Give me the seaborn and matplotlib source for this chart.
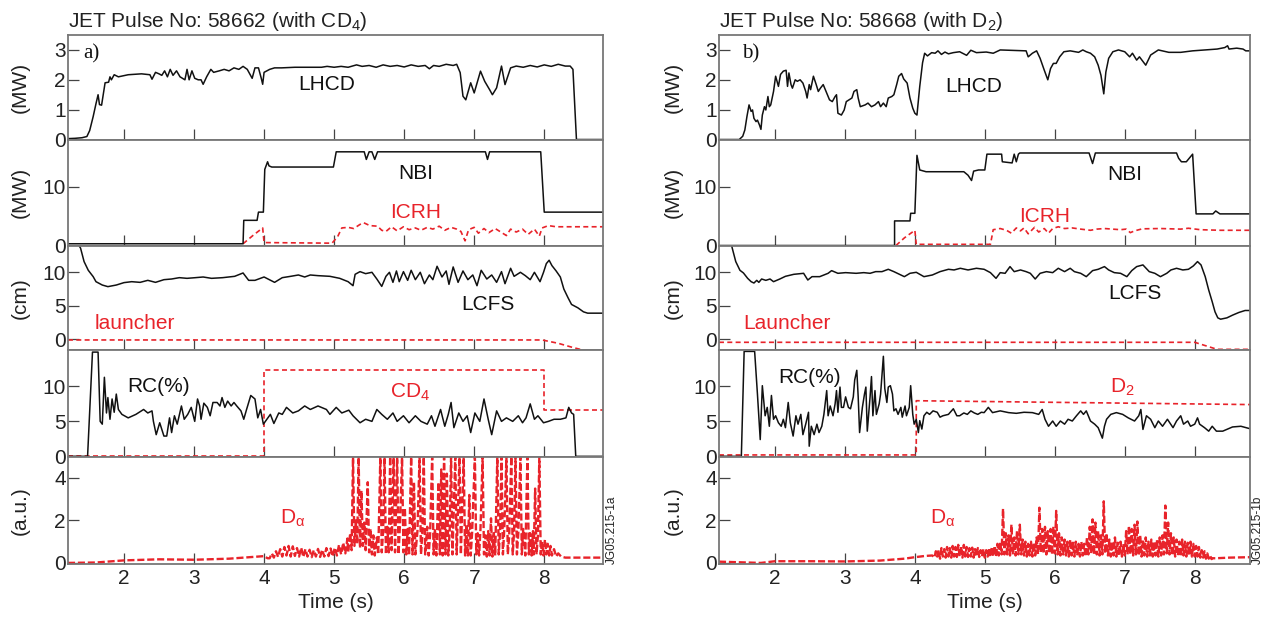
import matplotlib
matplotlib.use("Agg")
import matplotlib.pyplot as plt
import seaborn as sns

# ---------------- data: pulse 58662 (with CD4) ----------------
lhcd_a_t = [1.2, 1.3, 1.4, 1.47, 1.51, 1.56, 1.6, 1.63, 1.65, 1.68,
            1.7, 1.73, 1.78, 1.8, 1.82, 1.86, 1.92, 2.06, 2.25, 2.37,
            2.4, 2.45, 2.5, 2.54, 2.58, 2.62, 2.66, 2.7, 2.75, 2.8,
            2.87, 2.9, 2.93, 2.97, 3.01, 3.06, 3.1, 3.13, 3.18, 3.24,
            3.28, 3.36, 3.43, 3.5, 3.57, 3.64, 3.7, 3.76, 3.83, 3.87,
            3.92, 3.96, 3.98, 4.0, 4.08, 4.15, 4.25, 4.44, 4.6, 4.82,
            4.9, 5.0, 5.1, 5.2, 5.32, 5.4, 5.5, 5.6, 5.7, 5.8,
            5.9, 6.0, 6.1, 6.2, 6.3, 6.36, 6.42, 6.5, 6.6, 6.7,
            6.75, 6.8, 6.84, 6.88, 6.95, 7.0, 7.09, 7.15, 7.22, 7.26,
            7.32, 7.39, 7.44, 7.52, 7.6, 7.7, 7.8, 7.9, 8.0, 8.1,
            8.2, 8.3, 8.37, 8.41, 8.46, 8.84]
lhcd_a_v = [0.03, 0.04, 0.06, 0.1, 0.3, 0.77, 1.2, 1.5, 1.17, 1.15,
            1.45, 1.9, 1.92, 2.1, 2.0, 2.17, 2.1, 2.17, 2.2, 2.17,
            2.02, 2.25, 2.2, 2.15, 2.3, 2.1, 2.35, 2.15, 2.3, 2.1,
            2.0, 2.35, 2.0, 2.3, 2.05, 2.0, 2.0, 1.85, 2.1, 2.35,
            2.25, 2.3, 2.35, 2.3, 2.4, 2.35, 2.45, 2.35, 2.05, 2.4,
            2.4, 2.05, 1.85, 2.25, 2.35, 2.4, 2.4, 2.42, 2.42, 2.42,
            2.45, 2.42, 2.45, 2.42, 2.5, 2.45, 2.48, 2.42, 2.5, 2.45,
            2.48, 2.43, 2.5, 2.45, 2.48, 2.37, 2.48, 2.45, 2.52, 2.48,
            2.52, 2.24, 1.45, 1.33, 1.9, 1.56, 2.29, 1.95, 1.67, 1.5,
            1.73, 2.46, 1.84, 2.4, 2.46, 2.42, 2.48, 2.43, 2.5, 2.45,
            2.52, 2.46, 2.46, 2.35, 0.0, 0.0]

nbi_a_t = [1.2, 3.7, 3.71, 3.9, 3.92, 3.99, 4.01, 4.05, 4.07, 4.11,
           4.99, 5.03, 5.43, 5.46, 5.5, 5.54, 5.58, 5.62, 7.16, 7.19,
           7.22, 7.95, 8.0, 8.84]
nbi_a_v = [0.3, 0.3, 4.3, 4.3, 5.7, 5.7, 13.0, 14.3, 13.6, 13.4,
           13.4, 16.0, 16.0, 14.7, 16.0, 16.0, 14.7, 16.0, 16.0, 14.7,
           16.0, 16.0, 5.7, 5.7]

icrh_a_t = [3.7, 3.72, 3.85, 3.98, 4.0, 4.97, 5.05, 5.11, 5.2, 5.28,
            5.37, 5.42, 5.51, 5.62, 5.68, 5.74, 5.82, 5.9, 5.99, 6.07,
            6.16, 6.24, 6.33, 6.41, 6.5, 6.58, 6.67, 6.75, 6.81, 6.87,
            6.92, 7.0, 7.06, 7.14, 7.21, 7.3, 7.38, 7.46, 7.52, 7.6,
            7.69, 7.77, 7.86, 7.93, 7.97, 8.06, 8.17, 8.84]
icrh_a_v = [0.3, 0.5, 1.8, 3.0, 0.5, 0.4, 1.5, 3.0, 3.1, 2.9,
            3.6, 3.9, 3.4, 3.3, 2.6, 2.4, 3.2, 2.5, 3.2, 2.7,
            3.0, 2.6, 3.1, 2.8, 3.3, 2.6, 3.1, 2.8, 2.4, 0.8,
            2.7, 3.1, 2.1, 2.9, 2.2, 2.9, 2.3, 1.7, 2.8, 2.3,
            2.8, 1.9, 2.8, 1.6, 3.0, 3.4, 3.2, 3.2]

lcfs_a_t = [1.33, 1.38, 1.43, 1.49, 1.56, 1.6, 1.69, 1.77, 1.89, 2.0,
            2.11, 2.23, 2.34, 2.45, 2.57, 2.68, 2.79, 2.9, 3.02, 3.13,
            3.25, 3.41, 3.58, 3.7, 3.78, 3.87, 4.0, 4.15, 4.26, 4.38,
            4.49, 4.58, 4.66, 4.77, 4.94, 5.08, 5.2, 5.27, 5.3, 5.37,
            5.45, 5.54, 5.61, 5.68, 5.74, 5.79, 5.84, 5.89, 5.93, 5.99,
            6.05, 6.1, 6.16, 6.23, 6.29, 6.36, 6.41, 6.47, 6.54, 6.6,
            6.64, 6.7, 6.77, 6.84, 6.91, 6.98, 7.04, 7.1, 7.18, 7.25,
            7.32, 7.39, 7.44, 7.52, 7.57, 7.66, 7.73, 7.8, 7.86, 7.94,
            7.99, 8.03, 8.07, 8.11, 8.17, 8.23, 8.28, 8.34, 8.39, 8.48,
            8.56, 8.62, 8.76, 8.84]
lcfs_a_v = [14.5, 13.6, 11.6, 10.3, 9.35, 8.6, 8.1, 7.86, 8.1, 8.46,
            8.6, 8.5, 8.8, 8.5, 8.9, 9.0, 9.2, 9.1, 9.2, 9.3,
            9.1, 9.2, 9.4, 9.9, 8.8, 8.8, 9.3, 8.5, 9.2, 9.4,
            9.6, 9.3, 9.6, 9.5, 9.4, 9.1, 8.6, 8.0, 9.7, 10.1,
            9.8, 10.0, 9.0, 7.9, 9.4, 10.0, 8.5, 10.2, 8.6, 10.1,
            8.8, 10.3, 8.9, 10.0, 8.3, 9.6, 8.9, 10.9, 9.3, 10.2,
            8.2, 10.8, 8.5, 10.2, 8.9, 9.6, 8.0, 10.3, 9.0, 9.6,
            8.5, 10.1, 8.3, 10.6, 9.4, 10.0, 9.5, 8.9, 10.0, 8.6,
            10.0, 11.3, 11.8, 11.0, 10.2, 9.3, 7.5, 6.2, 5.2, 4.7,
            4.1, 3.9, 3.9, 3.9]

launch_a_t = [1.2, 7.97, 8.2, 8.4, 8.55, 8.84]
launch_a_v = [-0.1, -0.1, -0.6, -1.2, -1.6, -2.0]

rc_a_t = [1.2, 1.48, 1.55, 1.63, 1.66, 1.69, 1.72, 1.75, 1.77, 1.8,
          1.83, 1.86, 1.89, 1.92, 1.97, 2.06, 2.17, 2.28, 2.34, 2.4,
          2.42, 2.46, 2.51, 2.57, 2.61, 2.65, 2.68, 2.72, 2.76, 2.82,
          2.86, 2.91, 2.96, 3.01, 3.05, 3.08, 3.1, 3.14, 3.19, 3.23,
          3.27, 3.33, 3.37, 3.4, 3.44, 3.48, 3.53, 3.57, 3.61, 3.67,
          3.71, 3.75, 3.81, 3.87, 3.91, 3.95, 3.99, 4.04, 4.09, 4.14,
          4.21, 4.26, 4.32, 4.41, 4.49, 4.58, 4.66, 4.77, 4.89, 4.94,
          5.03, 5.11, 5.21, 5.27, 5.37, 5.45, 5.54, 5.61, 5.68, 5.76,
          5.84, 5.9, 5.99, 6.07, 6.16, 6.24, 6.33, 6.39, 6.44, 6.52,
          6.58, 6.63, 6.67, 6.71, 6.78, 6.84, 6.9, 6.95, 7.01, 7.08,
          7.14, 7.2, 7.25, 7.32, 7.39, 7.46, 7.55, 7.63, 7.69, 7.74,
          7.8, 7.86, 7.91, 7.99, 8.06, 8.14, 8.23, 8.31, 8.35, 8.39,
          8.42, 8.45, 8.84]
rc_a_v = [0.0, 0.0, 14.9, 14.9, 5.0, 4.6, 11.3, 6.2, 8.4, 5.3,
          8.2, 6.3, 8.9, 6.7, 6.0, 5.5, 6.0, 6.7, 6.2, 6.5,
          5.0, 3.1, 4.8, 2.9, 2.9, 5.5, 3.4, 5.8, 4.6, 7.2,
          5.3, 6.0, 7.0, 5.0, 8.2, 7.2, 5.3, 7.6, 7.0, 5.8,
          7.7, 7.7, 7.2, 8.4, 7.0, 7.9, 7.2, 7.7, 7.2, 6.5,
          5.3, 6.7, 8.7, 8.2, 5.5, 6.7, 4.6, 5.3, 6.0, 4.7,
          6.2, 6.0, 7.0, 6.2, 6.5, 7.2, 6.7, 7.2, 6.7, 6.0,
          7.0, 6.2, 6.6, 5.8, 4.8, 5.3, 5.0, 6.7, 6.0, 5.3,
          6.2, 5.0, 5.8, 4.8, 5.8, 5.0, 4.6, 5.8, 4.3, 6.7,
          4.3, 6.0, 7.7, 4.1, 6.2, 5.0, 5.8, 3.4, 6.2, 5.0,
          8.2, 5.3, 3.1, 6.5, 5.0, 5.5, 5.0, 5.8, 4.8, 5.5,
          7.5, 5.3, 5.8, 4.8, 5.0, 5.3, 5.3, 5.5, 7.0, 6.2,
          6.0, 0.0, 0.0]

cd4_t = [1.2, 4.0, 4.0, 8.0, 8.0, 8.84]
cd4_v = [0.1, 0.1, 12.4, 12.4, 6.6, 6.6]

da_a_t = [1.2, 1.6, 2.0, 2.5, 3.0, 3.5, 3.9, 4.0, 4.05,
          4.08, 4.11, 4.14, 4.17, 4.2, 4.23, 4.26, 4.29, 4.32, 4.35,
          4.38, 4.41, 4.44, 4.47, 4.5, 4.53, 4.56, 4.59, 4.62, 4.65,
          4.68, 4.71, 4.74, 4.77, 4.8, 4.83, 4.86, 4.89, 4.92, 4.95,
          4.98, 5.01, 5.04, 5.07, 5.1, 5.13, 5.16, 5.19,
          5.2, 5.23, 5.25, 5.27, 5.29, 5.31, 5.33, 5.35, 5.37, 5.39,
          5.41, 5.43, 5.45, 5.48, 5.5, 5.52, 5.54, 5.56, 5.58, 5.61,
          5.63, 5.66, 5.68, 5.7, 5.72, 5.74, 5.76, 5.78, 5.8, 5.82,
          5.85, 5.87, 5.9, 5.92, 5.94, 5.97, 5.99, 6.01, 6.03, 6.05,
          6.07, 6.1, 6.12, 6.14, 6.16, 6.19, 6.22, 6.24, 6.26, 6.28,
          6.3, 6.33, 6.35, 6.37, 6.4, 6.42, 6.44, 6.46, 6.49, 6.51,
          6.53, 6.55, 6.57, 6.59, 6.61, 6.63, 6.65, 6.67, 6.69, 6.73,
          6.75, 6.79, 6.81, 6.85, 6.87, 6.89, 6.91, 6.93, 6.95, 6.97,
          7.01, 7.03, 7.05, 7.07, 7.09, 7.12, 7.14, 7.16, 7.18, 7.2,
          7.22, 7.24, 7.26, 7.28, 7.3, 7.33, 7.35, 7.37, 7.39, 7.41,
          7.43, 7.46, 7.48, 7.5, 7.53, 7.55, 7.57, 7.59, 7.61, 7.63,
          7.66, 7.68, 7.7, 7.73, 7.76, 7.78, 7.8, 7.82, 7.84, 7.85,
          7.87, 7.89, 7.91, 7.93, 7.95, 7.97, 7.99, 8.01, 8.03, 8.05,
          8.07, 8.09, 8.11, 8.14, 8.17, 8.2, 8.24, 8.3, 8.84]
da_a_v = [0.0, 0.02, 0.12, 0.17, 0.15, 0.2, 0.3, 0.32, 0.22,
          0.22, 0.45, 0.25, 0.55, 0.28, 0.65, 0.3, 0.75, 0.35, 0.8,
          0.3, 0.78, 0.33, 0.7, 0.3, 0.72, 0.28, 0.65, 0.3, 0.62,
          0.27, 0.6, 0.3, 0.66, 0.28, 0.62, 0.3, 0.7, 0.32, 0.68,
          0.3, 0.72, 0.35, 0.85, 0.4, 0.95, 0.45, 1.15,
          0.5, 1.4, 0.6, 5.0, 0.8, 2.0, 0.9, 5.0, 0.7, 3.4,
          0.8, 1.9, 0.6, 3.8, 0.5, 1.6, 0.4, 1.3, 0.35, 1.2,
          0.4, 5.0, 0.5, 1.5, 5.0, 0.4, 1.7, 0.5, 5.0, 0.6,
          5.0, 0.5, 5.0, 0.4, 1.8, 5.0, 0.5, 2.6, 0.4, 1.6,
          0.35, 5.0, 0.4, 3.8, 0.4, 1.5, 5.0, 0.4, 1.4, 5.0,
          0.4, 1.7, 0.35, 1.3, 5.0, 0.4, 1.6, 0.35, 3.8, 0.4,
          4.4, 0.35, 5.0, 0.4, 4.2, 0.35, 1.5, 5.0, 0.4, 5.0,
          0.4, 5.0, 0.4, 5.0, 0.35, 1.8, 0.3, 3.2, 0.35, 1.4,
          5.0, 0.4, 1.4, 0.35, 1.6, 5.0, 0.4, 1.3, 0.3, 1.5,
          0.35, 2.1, 0.3, 1.4, 0.35, 5.0, 0.4, 1.5, 5.0, 0.4,
          1.6, 5.0, 0.4, 1.3, 5.0, 0.4, 1.5, 5.0, 0.4, 1.4,
          5.0, 0.4, 1.6, 0.35, 5.0, 0.4, 1.4, 0.35, 1.5, 0.4,
          3.5, 0.4, 1.3, 5.0, 0.4, 1.0, 0.35, 1.1, 0.4, 0.9,
          0.35, 0.8, 0.35, 0.65, 0.3, 0.45, 0.3, 0.25, 0.25]

# ---------------- data: pulse 58668 (with D2) ----------------
lhcd_b_t = [1.2, 1.49, 1.54, 1.57, 1.6, 1.63, 1.66, 1.68, 1.7, 1.73,
            1.75, 1.78, 1.8, 1.82, 1.85, 1.87, 1.9, 1.92, 1.94, 1.98,
            2.01, 2.05, 2.08, 2.12, 2.16, 2.18, 2.2, 2.23, 2.25, 2.29,
            2.32, 2.36, 2.4, 2.44, 2.46, 2.49, 2.51, 2.55, 2.59, 2.62,
            2.65, 2.69, 2.73, 2.78, 2.82, 2.86, 2.88, 2.9, 2.95, 2.99,
            3.02, 3.1, 3.13, 3.17, 3.19, 3.22, 3.29, 3.33, 3.38, 3.43,
            3.48, 3.51, 3.55, 3.59, 3.62, 3.67, 3.7, 3.74, 3.77, 3.81,
            3.84, 3.89, 3.93, 3.97, 4.0, 4.03, 4.07, 4.11, 4.14, 4.18,
            4.24, 4.29, 4.33, 4.38, 4.43, 4.48, 4.55, 4.64, 4.74, 4.8,
            4.88, 5.02, 5.12, 5.22, 5.45, 5.59, 5.62, 5.68, 5.74, 5.79,
            5.85, 5.9, 5.94, 5.98, 6.02, 6.07, 6.13, 6.22, 6.34, 6.4,
            6.45, 6.51, 6.57, 6.62, 6.66, 6.7, 6.73, 6.77, 6.83, 6.91,
            7.0, 7.07, 7.11, 7.17, 7.21, 7.3, 7.37, 7.48, 7.63, 7.8,
            7.97, 8.14, 8.32, 8.43, 8.47, 8.49, 8.6, 8.69, 8.73, 8.79]
lhcd_b_v = [0.0, 0.0, 0.11, 0.32, 0.77, 1.16, 0.94, 0.99, 0.71, 0.6,
            0.65, 0.48, 0.34, 0.82, 1.1, 0.99, 1.44, 1.1, 1.16, 1.61,
            2.12, 1.78, 2.18, 2.29, 2.32, 1.78, 2.23, 1.84, 1.72, 2.0,
            1.95, 2.0, 1.89, 1.61, 1.39, 1.84, 1.67, 2.12, 1.84, 1.61,
            1.72, 1.84, 1.61, 1.33, 1.27, 1.44, 1.5, 0.88, 0.82, 0.99,
            1.27, 1.39, 1.61, 1.67, 1.39, 1.1, 1.16, 1.22, 1.1, 1.16,
            1.27, 1.1, 1.22, 1.1, 1.39, 1.44, 1.5, 1.84, 2.12, 2.21,
            2.03, 1.89, 1.39, 1.05, 0.88, 0.82, 1.78, 2.57, 2.89, 2.8,
            2.91, 2.89, 2.97, 2.85, 2.93, 2.87, 2.91, 2.94, 2.82, 2.99,
            2.91, 2.93, 2.89, 3.0, 2.98, 2.97, 2.77, 2.89, 2.97, 2.72,
            2.32, 2.0, 2.38, 2.55, 2.55, 2.77, 2.94, 2.97, 2.92, 3.0,
            2.94, 2.89, 2.77, 2.49, 2.15, 1.53, 2.26, 2.72, 2.94, 3.0,
            2.94, 2.77, 2.89, 2.66, 2.77, 2.49, 2.83, 3.0, 2.92, 2.92,
            2.97, 3.0, 3.03, 3.08, 3.14, 3.03, 3.06, 3.03, 2.97, 2.97]

nbi_b_t = [1.2, 3.71, 3.71, 3.93, 3.94, 4.0, 4.03, 4.07, 4.16, 4.7,
           4.76, 4.81, 4.84, 4.91, 5.0, 5.03, 5.24, 5.25, 5.39, 5.42,
           5.45, 5.48, 5.5, 6.49, 6.54, 6.58, 7.74, 7.77, 7.81, 7.88,
           7.97, 8.02, 8.26, 8.3, 8.36, 8.79]
nbi_b_v = [0.0, 0.0, 4.2, 4.2, 5.5, 5.5, 15.4, 12.9, 12.6, 12.6,
           12.0, 11.1, 12.7, 12.9, 12.9, 15.6, 15.6, 14.3, 14.1, 15.6,
           14.3, 15.6, 15.8, 15.8, 14.0, 15.8, 15.8, 14.9, 14.3, 14.3,
           15.6, 5.4, 5.4, 5.9, 5.4, 5.4]

icrh_b_t = [3.73, 3.85, 4.0, 4.02, 5.08, 5.12, 5.22, 5.31, 5.38, 5.45,
            5.51, 5.56, 5.62, 5.71, 5.77, 5.85, 5.91, 5.97, 6.05, 6.14,
            6.25, 6.37, 6.51, 6.6, 6.71, 6.94, 7.02, 7.08, 7.14, 7.25,
            7.51, 7.8, 7.91, 8.08, 8.37, 8.79]
icrh_b_v = [0.0, 1.3, 2.6, 0.2, 0.2, 2.7, 2.9, 2.6, 2.1, 3.0,
            2.5, 3.0, 2.0, 3.1, 2.3, 2.9, 2.1, 2.9, 3.2, 2.9,
            3.0, 2.8, 2.6, 2.8, 2.9, 2.7, 2.8, 2.2, 2.5, 2.85,
            2.9, 2.8, 2.95, 2.7, 2.6, 2.6]

lcfs_b_t = [1.37, 1.39, 1.44, 1.5, 1.55, 1.61, 1.66, 1.7, 1.74, 1.77,
            1.81, 1.87, 1.93, 1.98, 2.07, 2.15, 2.27, 2.41, 2.47, 2.53,
            2.64, 2.76, 2.81, 2.9, 3.01, 3.16, 3.27, 3.36, 3.44, 3.53,
            3.62, 3.7, 3.85, 3.93, 4.02, 4.13, 4.25, 4.36, 4.48, 4.56,
            4.65, 4.76, 4.88, 4.99, 5.08, 5.16, 5.22, 5.29, 5.36, 5.42,
            5.51, 5.59, 5.65, 5.72, 5.79, 5.88, 5.97, 6.05, 6.14, 6.22,
            6.28, 6.37, 6.45, 6.54, 6.62, 6.71, 6.77, 6.85, 6.94, 7.03,
            7.1, 7.17, 7.26, 7.35, 7.43, 7.51, 7.6, 7.66, 7.74, 7.83,
            7.91, 7.98, 8.04, 8.09, 8.15, 8.2, 8.25, 8.29, 8.33, 8.37,
            8.46, 8.54, 8.63, 8.72, 8.79]
lcfs_b_v = [14.5, 13.6, 11.6, 10.3, 9.9, 9.1, 8.6, 8.4, 8.8, 8.5,
            9.0, 8.8, 9.0, 8.6, 9.0, 9.4, 9.7, 9.85, 8.85, 9.35,
            9.35, 9.85, 10.25, 9.85, 9.95, 9.85, 9.95, 9.85, 10.1, 10.1,
            10.45, 10.1, 9.35, 9.85, 10.0, 9.35, 9.6, 10.1, 10.45, 10.35,
            10.6, 10.35, 10.6, 10.45, 9.95, 9.1, 9.95, 9.85, 10.85, 10.1,
            10.35, 10.1, 9.85, 9.0, 9.85, 10.1, 9.95, 10.6, 10.1, 10.6,
            10.1, 9.85, 9.35, 10.25, 10.45, 10.85, 10.35, 9.95, 9.85, 9.35,
            10.25, 10.85, 11.1, 10.1, 9.85, 9.35, 9.85, 10.35, 10.6, 10.35,
            10.45, 10.95, 11.6, 11.1, 9.35, 7.35, 5.6, 4.1, 3.2, 3.0,
            3.2, 3.6, 4.0, 4.3, 4.3]

launch_b_t = [1.2, 8.0, 8.32, 8.79]
launch_b_v = [-0.45, -0.45, -1.5, -1.5]

rc_b_t = [1.2, 1.52, 1.56, 1.71, 1.75, 1.79, 1.82, 1.86, 1.89, 1.92,
          1.95, 1.98, 2.01, 2.05, 2.09, 2.12, 2.15, 2.19, 2.22, 2.26,
          2.3, 2.33, 2.37, 2.4, 2.44, 2.48, 2.49, 2.52, 2.56, 2.6,
          2.63, 2.67, 2.7, 2.74, 2.76, 2.79, 2.83, 2.86, 2.88, 2.9,
          2.93, 2.95, 2.98, 3.01, 3.05, 3.08, 3.12, 3.14, 3.17, 3.19,
          3.21, 3.25, 3.28, 3.3, 3.32, 3.36, 3.38, 3.4, 3.43, 3.45,
          3.49, 3.51, 3.53, 3.55, 3.57, 3.6, 3.62, 3.65, 3.68, 3.7,
          3.73, 3.76, 3.8, 3.82, 3.86, 3.88, 3.92, 3.94, 3.97, 3.99,
          4.02, 4.05, 4.07, 4.1, 4.13, 4.17, 4.21, 4.26, 4.32, 4.36,
          4.4, 4.48, 4.55, 4.6, 4.64, 4.7, 4.75, 4.8, 4.85, 4.9,
          4.95, 4.99, 5.05, 5.11, 5.22, 5.34, 5.45, 5.56, 5.68, 5.77,
          5.82, 5.86, 5.91, 5.97, 6.02, 6.08, 6.14, 6.19, 6.25, 6.31,
          6.37, 6.41, 6.45, 6.51, 6.57, 6.62, 6.68, 6.71, 6.74, 6.8,
          6.88, 6.97, 7.05, 7.14, 7.2, 7.23, 7.26, 7.31, 7.37, 7.43,
          7.48, 7.54, 7.61, 7.69, 7.74, 7.8, 7.84, 7.9, 7.94, 8.0,
          8.04, 8.07, 8.14, 8.2, 8.25, 8.31, 8.4, 8.54, 8.66, 8.79]
rc_b_v = [0.0, 0.0, 15.0, 15.0, 8.9, 2.4, 10.1, 5.8, 7.0, 4.3,
          8.7, 5.3, 5.8, 4.8, 4.3, 5.3, 4.1, 7.7, 4.8, 2.9,
          5.8, 4.6, 6.0, 3.1, 4.6, 6.3, 1.45, 4.3, 3.1, 4.6,
          3.4, 4.3, 6.0, 9.4, 5.8, 7.2, 5.8, 7.5, 9.4, 6.3,
          9.9, 7.0, 7.0, 8.5, 7.0, 6.8, 8.5, 10.9, 12.3, 8.5,
          3.4, 7.0, 8.9, 9.9, 3.6, 8.5, 11.4, 5.8, 9.4, 6.0,
          7.5, 8.9, 11.6, 14.3, 9.7, 7.7, 9.9, 10.1, 8.9, 6.5,
          6.8, 6.0, 7.0, 5.6, 7.2, 5.8, 7.0, 10.1, 6.0, 4.6,
          5.3, 3.4, 5.1, 3.9, 5.8, 6.3, 6.0, 6.5, 6.3, 5.6,
          5.8, 6.0, 6.8, 5.8, 5.8, 6.2, 6.0, 6.5, 6.2, 6.0,
          6.3, 6.25, 7.0, 6.25, 6.5, 6.25, 6.15, 6.3, 6.25, 6.0,
          6.7, 5.3, 4.3, 5.05, 4.3, 5.05, 4.6, 5.3, 5.05, 5.8,
          6.5, 6.0, 6.5, 5.05, 4.6, 4.1, 2.6, 4.3, 5.3, 6.0,
          6.25, 6.0, 5.5, 5.05, 5.8, 6.7, 3.85, 5.8, 5.3, 4.1,
          5.05, 4.3, 5.3, 4.1, 5.05, 5.8, 4.6, 5.05, 4.3, 4.6,
          5.5, 4.6, 4.1, 3.6, 4.3, 3.6, 3.6, 4.2, 4.3, 3.95]

d2_t = [1.2, 4.02, 4.02, 8.79]
d2_v = [0.2, 0.2, 7.95, 7.4]

da_b_t = [1.2, 1.5, 1.8, 2.0, 2.5, 3.0, 3.5, 3.85, 4.0, 4.15, 4.25,
          4.28, 4.30, 4.32, 4.34, 4.36, 4.38, 4.40, 4.42, 4.44, 4.46,
          4.48, 4.50, 4.52, 4.54, 4.56, 4.58, 4.60, 4.62, 4.64, 4.66,
          4.68, 4.70, 4.72, 4.74, 4.76, 4.78, 4.80, 4.82, 4.84, 4.86,
          4.88, 4.90, 4.92, 4.94, 4.96, 4.98, 5.00, 5.02, 5.04, 5.06,
          5.08, 5.10, 5.12, 5.14, 5.16, 5.18, 5.20, 5.22, 5.24, 5.26,
          5.28, 5.30, 5.32, 5.34, 5.36, 5.38, 5.40, 5.42, 5.44, 5.46,
          5.48, 5.50, 5.52, 5.54, 5.56, 5.58, 5.60, 5.62, 5.64, 5.66,
          5.68, 5.70, 5.72, 5.74, 5.76, 5.78, 5.80, 5.82, 5.84, 5.86,
          5.88, 5.90, 5.92, 5.94, 5.96, 5.98, 6.00, 6.02, 6.04, 6.06,
          6.08, 6.10, 6.12, 6.14, 6.16, 6.18, 6.20, 6.22, 6.24, 6.26,
          6.28, 6.30, 6.32, 6.34, 6.36, 6.38, 6.40, 6.42, 6.44, 6.46,
          6.48, 6.50, 6.52, 6.54, 6.56, 6.58, 6.60, 6.62, 6.64, 6.66,
          6.68, 6.70, 6.72, 6.74, 6.76, 6.78, 6.80, 6.82, 6.84, 6.86,
          6.88, 6.90, 6.92, 6.94, 6.96, 6.98, 7.00, 7.02, 7.04, 7.06,
          7.08, 7.10, 7.12, 7.14, 7.16, 7.18, 7.20, 7.22, 7.24, 7.26,
          7.28, 7.30, 7.32, 7.34, 7.36, 7.38, 7.40, 7.42, 7.44, 7.46,
          7.48, 7.50, 7.52, 7.54, 7.56, 7.58, 7.60, 7.62, 7.64, 7.66,
          7.68, 7.70, 7.72, 7.74, 7.76, 7.78, 7.80, 7.82, 7.84, 7.86,
          7.88, 7.90, 7.92, 7.94, 7.96, 7.98, 8.00, 8.02, 8.04, 8.06,
          8.08, 8.10, 8.12, 8.14, 8.16, 8.18, 8.20, 8.22, 8.24, 8.26,
          8.3, 8.5, 8.79]
da_b_v = [0.06, 0.03, 0.0, 0.08, 0.08, 0.07, 0.11, 0.2, 0.27, 0.33, 0.35,
          0.25, 0.55, 0.3, 0.6, 0.2, 0.7, 0.3, 0.65, 0.25, 0.75,
          0.3, 0.7, 0.25, 0.8, 0.3, 0.75, 0.28, 0.85, 0.3, 0.8,
          0.25, 0.85, 0.3, 0.75, 0.28, 0.7, 0.3, 0.72, 0.25, 0.65,
          0.3, 0.7, 0.28, 0.6, 0.3, 0.65, 0.25, 0.6, 0.3, 0.7,
          0.28, 0.75, 0.3, 0.8, 0.3, 0.9, 0.35, 1.0, 0.4, 2.55,
          0.4, 1.4, 0.4, 1.3, 0.35, 1.8, 0.4, 1.2, 0.35, 1.5,
          0.4, 1.8, 0.4, 1.1, 0.35, 1.0, 0.3, 0.9, 0.35, 1.0,
          0.3, 0.95, 0.35, 1.2, 0.4, 2.6, 0.5, 1.6, 0.45, 1.7,
          0.4, 1.5, 0.45, 1.6, 0.4, 1.7, 0.45, 2.45, 0.4, 1.4,
          0.35, 1.2, 0.4, 1.1, 0.35, 1.0, 0.3, 1.1, 0.35, 0.95,
          0.3, 1.0, 0.35, 0.9, 0.3, 1.0, 0.35, 0.9, 0.3, 1.2,
          0.4, 1.7, 0.45, 2.05, 0.4, 1.9, 0.4, 1.5, 0.35, 1.3,
          0.4, 2.9, 0.45, 1.4, 0.35, 1.1, 0.3, 1.0, 0.35, 1.2,
          0.3, 0.95, 0.35, 1.0, 0.3, 0.9, 0.35, 1.5, 0.4, 1.75,
          0.4, 1.6, 0.35, 1.8, 0.4, 1.95, 0.35, 1.3, 0.3, 1.1,
          0.35, 1.2, 0.3, 1.0, 0.35, 1.1, 0.3, 1.0, 0.35, 1.1,
          0.3, 1.2, 0.35, 1.3, 0.4, 2.7, 0.45, 1.9, 0.4, 1.4,
          0.35, 1.2, 0.3, 1.1, 0.35, 1.0, 0.3, 1.1, 0.35, 1.0,
          0.3, 0.95, 0.35, 1.0, 0.3, 0.9, 0.3, 0.8, 0.3, 0.75,
          0.25, 0.6, 0.25, 0.55, 0.2, 0.45, 0.2, 0.35, 0.18, 0.22,
          0.22, 0.25, 0.27]

time_ticks = [2, 3, 4, 5, 6, 7, 8]

# ---------------- style ----------------
sns.set_theme(style="ticks")
plt.rcParams["font.family"] = ["Liberation Sans", "DejaVu Sans"]
plt.rcParams["mathtext.fontset"] = "custom"
plt.rcParams["mathtext.rm"] = "Liberation Sans"
plt.rcParams["mathtext.it"] = "Liberation Sans:italic"
plt.rcParams["mathtext.default"] = "regular"

RED = "#e8232a"
BLACK = "#111111"
FS = 15

fig = plt.figure(figsize=(12.68, 6.21), dpi=100)
ratios = [104.5, 106, 104.5, 106.7, 107.3]
gs_l = fig.add_gridspec(5, 1, left=0.0536, right=0.4756, top=0.9436,
                        bottom=0.0918, hspace=0, height_ratios=ratios)
gs_r = fig.add_gridspec(5, 1, left=0.567, right=0.9858, top=0.9436,
                        bottom=0.0918, hspace=0, height_ratios=ratios)


def draw(ax, t, v, color, lw, dashes=None):
    sns.lineplot(x=t, y=v, ax=ax, color=color, linewidth=lw, sort=False,
                 estimator=None, errorbar=None)
    ln = ax.lines[-1]
    if dashes:
        ln.set_linestyle((0, dashes))


def style(ax, xlim, ylim, yticks, bottom, ylabel, lx):
    ax.set_xlim(*xlim)
    ax.set_ylim(*ylim)
    ax.set_xticks(time_ticks)
    ax.set_yticks(yticks)
    ax.tick_params(axis="both", direction="in", length=8, width=0.9,
                   color="#444444", labelsize=FS, labelcolor="#222222")
    ax.tick_params(axis="y", pad=1.5)
    ax.tick_params(axis="x", pad=3.5, labelbottom=bottom)
    for s in ax.spines.values():
        s.set_visible(True)
        s.set_color("#777777")
        s.set_linewidth(1.3)
    ax.set_xlabel("")
    if ylabel:
        ax.set_ylabel(ylabel, fontsize=FS, color="#222222", va="center")
        ax.yaxis.set_label_coords(lx, 0.5)
    else:
        ax.set_ylabel("")
    if bottom:
        ax.set_xlabel("Time (s)", fontsize=FS, color="#222222", va="center")
        ax.xaxis.set_label_coords(0.5, -0.363)


def label(ax, x, y, s, color=BLACK, family=None, size=FS):
    kw = {}
    if family:
        kw["family"] = family
    ax.text(x, y, s, color=color, fontsize=size, ha="center", va="center", **kw)


DASH = (3, 2)
DASH_DA = (3, 1.2)

columns = [
    dict(gs=gs_l, xlim=(1.2, 8.84), lx=-0.09, tag="a)", tagx=1.54,
         lhcd=(lhcd_a_t, lhcd_a_v), nbi=(nbi_a_t, nbi_a_v), icrh=(icrh_a_t, icrh_a_v),
         lcfs=(lcfs_a_t, lcfs_a_v), launch=(launch_a_t, launch_a_v),
         rc=(rc_a_t, rc_a_v), gas=(cd4_t, cd4_v), da=(da_a_t, da_a_v),
         txt=dict(lhcd=(4.89, 1.83), nbi=(6.17, 12.3), icrh=(6.17, 5.66),
                  lcfs=(7.19, 5.15), launch=(2.16, 2.3, "launcher"),
                  rc=(2.5, 9.96), gas=(6.09, 9.1, "CD$_4$"), da=(4.41, 2.08)),
         title="JET Pulse No: 58662 (with CD$_4$)", tx=0.0536,
         code="JG05.215-1a", cx=0.4826),
    dict(gs=gs_r, xlim=(1.2, 8.79), lx=-0.087, tag="b)", tagx=1.66,
         lhcd=(lhcd_b_t, lhcd_b_v), nbi=(nbi_b_t, nbi_b_v), icrh=(icrh_b_t, icrh_b_v),
         lcfs=(lcfs_b_t, lcfs_b_v), launch=(launch_b_t, launch_b_v),
         rc=(rc_b_t, rc_b_v), gas=(d2_t, d2_v), da=(da_b_t, da_b_v),
         txt=dict(lhcd=(4.84, 1.76), nbi=(7.0, 12.2), icrh=(5.86, 5.0),
                  lcfs=(7.14, 6.9), launch=(2.17, 2.3, "Launcher"),
                  rc=(2.49, 11.2), gas=(6.96, 9.8, "D$_2$"), da=(4.4, 2.08)),
         title="JET Pulse No: 58668 (with D$_2$)", tx=0.567,
         code="JG05.215-1b", cx=0.992),
]

for c in columns:
    axs = [fig.add_subplot(c["gs"][i]) for i in range(5)]
    T = c["txt"]
    # LHCD
    ax = axs[0]
    draw(ax, *c["lhcd"], BLACK, 1.1)
    style(ax, c["xlim"], (0, 3.5), [0, 1, 2, 3], False, "(MW)", c["lx"])
    label(ax, *T["lhcd"], "LHCD")
    label(ax, c["tagx"], 2.87, c["tag"], family="Liberation Serif")
    # NBI / ICRH
    ax = axs[1]
    draw(ax, *c["icrh"], RED, 1.2, dashes=DASH)
    draw(ax, *c["nbi"], BLACK, 1.1)
    style(ax, c["xlim"], (0, 18.1), [0, 10], False, "(MW)", c["lx"])
    label(ax, *T["nbi"], "NBI")
    label(ax, *T["icrh"], "ICRH", color=RED)
    # LCFS / launcher
    ax = axs[2]
    draw(ax, *c["launch"], RED, 1.2, dashes=DASH)
    draw(ax, *c["lcfs"], BLACK, 1.1)
    style(ax, c["xlim"], (-1.6, 14.0), [0, 5, 10], False, "(cm)", c["lx"])
    label(ax, *T["lcfs"], "LCFS")
    lt = T["launch"]
    label(ax, lt[0], lt[1], lt[2], color=RED)
    # RC / gas
    ax = axs[3]
    draw(ax, *c["gas"], RED, 1.2, dashes=DASH)
    draw(ax, *c["rc"], BLACK, 1.1)
    style(ax, c["xlim"], (-0.05, 15.2), [0, 5, 10], False, None, c["lx"])
    label(ax, *T["rc"], "RC(%)")
    gt = T["gas"]
    label(ax, gt[0], gt[1], gt[2], color=RED)
    # D-alpha
    ax = axs[4]
    draw(ax, *c["da"], RED, 1.7, dashes=DASH_DA)
    style(ax, c["xlim"], (-0.05, 5.0), [0, 2, 4], True, "(a.u.)", c["lx"])
    label(ax, *T["da"], r"D$_\alpha$", color=RED)

    fig.text(c["tx"], 0.9565, c["title"], fontsize=FS, color="#222222",
             ha="left", va="baseline")
    fig.text(c["cx"], 0.1465, c["code"], fontsize=8.5, color="#222222",
             rotation=90, ha="center", va="center")

fig.savefig("out.png", dpi=100)
